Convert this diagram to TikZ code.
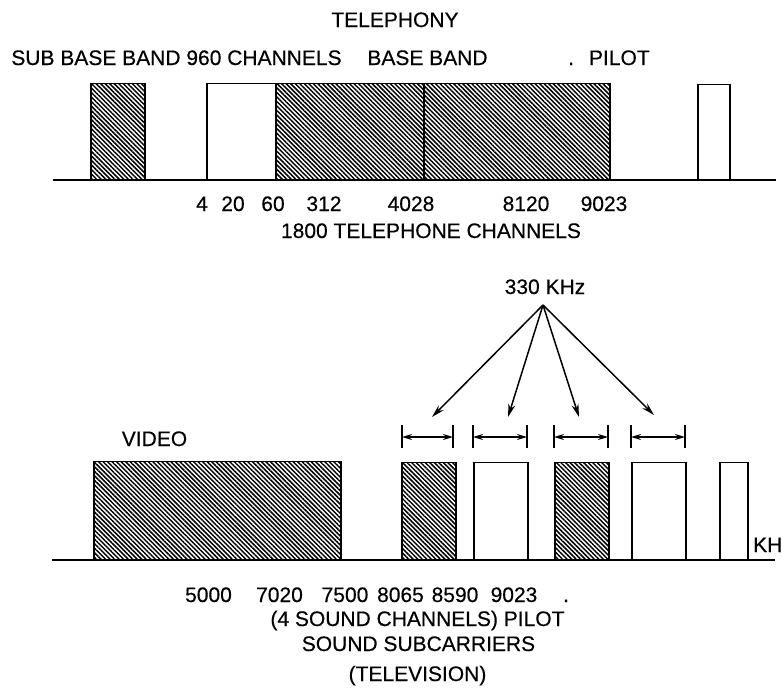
\documentclass[tikz,border=0pt]{standalone}
\usepackage{fontspec}
\setmainfont{Liberation Sans}[FakeBold=0.4]
\usetikzlibrary{patterns.meta,arrows.meta}
\begin{document}
\begin{tikzpicture}[x=1pt,y=-1pt,
  hatchbox/.style={draw, line width=1.5pt, anchor=south west, inner sep=0pt,
    pattern={Lines[angle=-45,distance=3.2pt,line width=1.5pt]}},
  openbox/.style={draw, line width=1.5pt, anchor=south west, inner sep=0pt, fill=white},
  lbl/.style={font=\fontsize{21}{25}\selectfont, inner sep=0pt, anchor=base},
  axisline/.style={line width=1.5pt},
  ptr/.style={line width=1.5pt, -{Stealth[length=13pt,width=7pt]}},
  dimarrow/.style={line width=1.5pt, {Stealth[length=10pt,width=6pt]}-{Stealth[length=10pt,width=6pt]}},
  dimbar/.style={line width=1.5pt}]
\useasboundingbox (0,0) rectangle (782,689);
\fill[white] (0,0) rectangle (782,689);

% ---------- Telephony ----------
\node[hatchbox, minimum width=54pt, minimum height=96pt] (sub) at (90,180) {};
\node[openbox, minimum width=69pt, minimum height=96pt] (ch960) at (206,180) {};
\node[hatchbox, minimum width=148pt, minimum height=96pt] (bbA) at (275,180) {};
\node[hatchbox, minimum width=186pt, minimum height=96pt] (bbB) at (423,180) {};
\node[openbox, minimum width=32pt, minimum height=95pt] (pilotT) at (697,180) {};
\coordinate (axTl) at (53,180);
\coordinate (axTr) at (776,180);
\draw[axisline] (axTl) -- (axTr);

\node[lbl] (tel) at (395,27) {TELEPHONY};
\node[lbl] (sublbl) at (176.5,65) {SUB BASE BAND 960 CHANNELS};
\node[lbl] (bblbl) at (427.5,65) {BASE BAND};
\node[lbl, anchor=base west] (pilotlbl) at (568,65) {.\hspace{15pt}PILOT};

\node[lbl] (t4) at (202,211) {4};
\node[lbl] (t20) at (233,211) {20};
\node[lbl] (t60) at (273,211) {60};
\node[lbl] (t312) at (324,211) {312};
\node[lbl] (t4028) at (411,211) {4028};
\node[lbl] (t8120) at (526,211) {8120};
\node[lbl] (t9023) at (604,211) {9023};
\node[lbl] (tch) at (431,238) {1800 TELEPHONE CHANNELS};

% ---------- Television ----------
\node[lbl] (khz) at (545,294) {330 KHz};
\coordinate (apex) at (543,305);
\coordinate (e1) at (432,417);
\coordinate (e2) at (508,417);
\coordinate (e3) at (579,417);
\coordinate (e4) at (654,415);
\draw[ptr] (apex) -- (e1);
\draw[ptr] (apex) -- (e2);
\draw[ptr] (apex) -- (e3);
\draw[ptr] (apex) -- (e4);

\foreach \a/\b/\n in {402/453/1, 473/527/2, 554/608/3, 631/685/4}{
  \coordinate (dl\n t) at (\a,425); \coordinate (dl\n b) at (\a,448);
  \coordinate (dr\n t) at (\b,425); \coordinate (dr\n b) at (\b,448);
  \coordinate (dl\n) at (\a,437); \coordinate (dr\n) at (\b,437);
  \draw[dimbar] (dl\n t) -- (dl\n b);
  \draw[dimbar] (dr\n t) -- (dr\n b);
  \draw[dimarrow] (dl\n) -- (dr\n);
}

\node[hatchbox, minimum width=247pt, minimum height=98pt] (video) at (93,560) {};
\node[hatchbox, minimum width=54pt, minimum height=97pt] (s1) at (401,560) {};
\node[openbox, minimum width=54pt, minimum height=97pt] (s2) at (473,560) {};
\node[hatchbox, minimum width=54pt, minimum height=97pt] (s3) at (554,560) {};
\node[openbox, minimum width=54pt, minimum height=97pt] (s4) at (631,560) {};
\node[openbox, minimum width=28pt, minimum height=97pt] (pilotB) at (719,560) {};
\coordinate (axBl) at (52,560);
\coordinate (axBr) at (775,560);
\draw[axisline] (axBl) -- (axBr);

\node[lbl] (vid) at (154.5,446) {VIDEO};
\node[lbl, anchor=base west] (kh) at (753,552) {KH};

\node[lbl] (b5000) at (208.5,602) {5000};
\node[lbl] (b7020) at (279.5,602) {7020};
\node[lbl] (b7500) at (345,602) {7500};
\node[lbl] (b8065) at (400.5,602) {8065};
\node[lbl] (b8590) at (455,602) {8590};
\node[lbl] (b9023) at (514,602) {9023};
\node[lbl] (bdot) at (566,602) {.};
\node[lbl] (snd) at (417.5,626) {(4 SOUND CHANNELS) PILOT};
\node[lbl] (subc) at (418.5,651) {SOUND SUBCARRIERS};
\node[lbl] (tv) at (417.5,681) {(TELEVISION)};
\end{tikzpicture}
\end{document}
